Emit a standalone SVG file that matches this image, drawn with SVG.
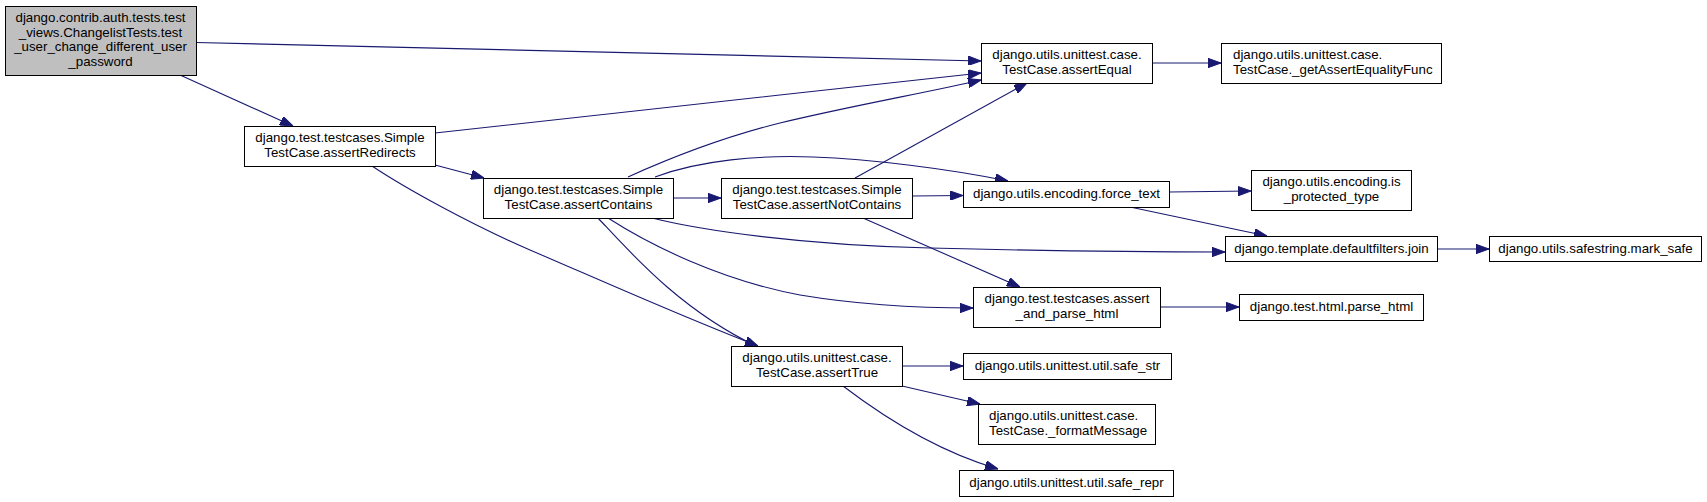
<svg xmlns="http://www.w3.org/2000/svg" width="1707" height="502" viewBox="0 0 1707 502">
<style>
.node rect{fill:#ffffff;stroke:#000000;stroke-width:1}
.node.root rect{fill:#bfbfbf}
.node text{font-family:"Liberation Sans",Arial,sans-serif;font-size:13.3px;fill:#000000}
.c{text-anchor:middle}
.l{text-anchor:start}
.edges path{fill:none;stroke:#191970;stroke-width:1.1;marker-end:url(#arr)}
</style>
<defs>
<marker id="arr" viewBox="0 0 13 9.4" refX="13" refY="4.7" markerWidth="13" markerHeight="9.4" markerUnits="userSpaceOnUse" orient="auto">
<path d="M0,0 L13,4.7 L0,9.4 Z" fill="#191970" stroke="#191970" stroke-width="1"/>
</marker>
</defs>
<rect width="1707" height="502" fill="#ffffff"/>
<g class="edges" id="edges">
<path d="M196,42.5 L981,61"/>
<path d="M180,75 L293,126"/>
<path d="M435,133 C600,116 800,92 981,73"/>
<path d="M435,165 L484,178"/>
<path d="M372,166 C405,188 470,224 530,250 C600,280 680,316 758,346"/>
<path d="M628,177 C670,158 720,138 780,123 C850,106 930,92 981,80"/>
<path d="M655,177 C700,160 760,155 813,157 C870,159 950,169 1008,181"/>
<path d="M673,198 L721,198"/>
<path d="M652,218 C700,230 800,245 930,248 C1050,251 1150,252 1225,252"/>
<path d="M608,218 C650,245 720,280 800,295 C860,305 920,308 973,308"/>
<path d="M598,218 C630,252 680,310 758,347"/>
<path d="M855,178 L1027,83"/>
<path d="M912,196 L963,195.5"/>
<path d="M863,218 L1020,287"/>
<path d="M1152,63 L1221,63"/>
<path d="M1169,192 L1251,191"/>
<path d="M1130,207 L1267,236"/>
<path d="M1437,249 L1489,249"/>
<path d="M1160,307 L1239,307"/>
<path d="M902,366 L963,366"/>
<path d="M902,386 L980,404"/>
<path d="M843,386 C885,418 940,452 998,469"/>
</g>
<g class="node root" id="n0">
<rect x="5.5" y="6.5" width="191" height="69"/>
<text class="c" x="100.5" y="22">django.contrib.auth.tests.test</text>
<text class="c" x="100.5" y="36.7">_views.ChangelistTests.test</text>
<text class="c" x="100.5" y="51.3">_user_change_different_user</text>
<text class="c" x="100.5" y="66">_password</text>
</g>
<g class="node" id="n1">
<rect x="244.5" y="126.5" width="191" height="40"/>
<text class="c" x="340" y="142">django.test.testcases.Simple</text>
<text class="c" x="340" y="156.7">TestCase.assertRedirects</text>
</g>
<g class="node" id="n2">
<rect x="483.5" y="178.5" width="190" height="40"/>
<text class="c" x="578.5" y="194">django.test.testcases.Simple</text>
<text class="c" x="578.5" y="208.7">TestCase.assertContains</text>
</g>
<g class="node" id="n3">
<rect x="721.5" y="178.5" width="191" height="40"/>
<text class="c" x="817" y="194">django.test.testcases.Simple</text>
<text class="c" x="817" y="208.7">TestCase.assertNotContains</text>
</g>
<g class="node" id="n4">
<rect x="981.5" y="43.5" width="171" height="40"/>
<text class="c" x="1067" y="59">django.utils.unittest.case.</text>
<text class="c" x="1067" y="73.7">TestCase.assertEqual</text>
</g>
<g class="node" id="n5">
<rect x="1221.5" y="43.5" width="220" height="40"/>
<text class="l" x="1233" y="59">django.utils.unittest.case.</text>
<text class="l" x="1233" y="73.7">TestCase._getAssertEqualityFunc</text>
</g>
<g class="node" id="n6">
<rect x="963.5" y="181.5" width="206" height="26"/>
<text class="c" x="1066.5" y="197.8">django.utils.encoding.force_text</text>
</g>
<g class="node" id="n7">
<rect x="1251.5" y="170.5" width="160" height="40"/>
<text class="c" x="1331.5" y="186">django.utils.encoding.is</text>
<text class="c" x="1331.5" y="200.7">_protected_type</text>
</g>
<g class="node" id="n8">
<rect x="1225.5" y="236.5" width="212" height="25"/>
<text class="c" x="1331.5" y="252.5">django.template.defaultfilters.join</text>
</g>
<g class="node" id="n9">
<rect x="1489.5" y="236.5" width="212" height="25"/>
<text class="c" x="1595.5" y="252.5">django.utils.safestring.mark_safe</text>
</g>
<g class="node" id="n10">
<rect x="973.5" y="287.5" width="187" height="40"/>
<text class="c" x="1067" y="303">django.test.testcases.assert</text>
<text class="c" x="1067" y="317.7">_and_parse_html</text>
</g>
<g class="node" id="n11">
<rect x="1239.5" y="294.5" width="184" height="26"/>
<text class="c" x="1331.5" y="310.8">django.test.html.parse_html</text>
</g>
<g class="node" id="n12">
<rect x="731.5" y="346.5" width="171" height="40"/>
<text class="c" x="817" y="362">django.utils.unittest.case.</text>
<text class="c" x="817" y="376.7">TestCase.assertTrue</text>
</g>
<g class="node" id="n13">
<rect x="963.5" y="353.5" width="208" height="26"/>
<text class="c" x="1067.5" y="369.8">django.utils.unittest.util.safe_str</text>
</g>
<g class="node" id="n14">
<rect x="978.5" y="404.5" width="177" height="40"/>
<text class="l" x="989" y="420">django.utils.unittest.case.</text>
<text class="l" x="989" y="434.7">TestCase._formatMessage</text>
</g>
<g class="node" id="n15">
<rect x="959.5" y="470.5" width="214" height="26"/>
<text class="c" x="1066.5" y="486.8">django.utils.unittest.util.safe_repr</text>
</g>
</svg>
